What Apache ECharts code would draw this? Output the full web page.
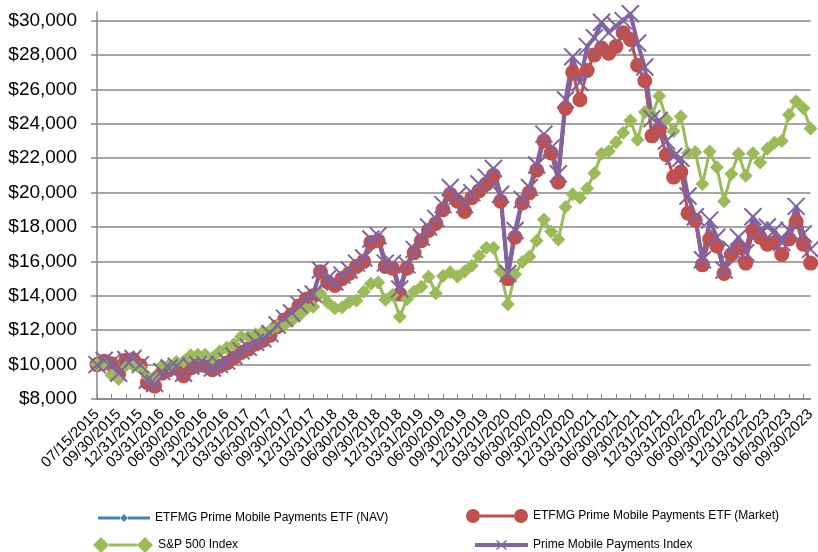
<!DOCTYPE html>
<html>
<head>
<meta charset="utf-8">
<script src="https://cdn.jsdelivr.net/npm/echarts@6/dist/echarts.min.js"></script>
<style>
  html, body { margin: 0; padding: 0; background: #fff; }
  #charts { width: 818px; height: 552px; }
</style>
</head>
<body>
<div id="charts"></div>
<script>
// growth of $10,000, monthly
var dates = ['07/15/2015', '07/31/2015', '08/31/2015', '09/30/2015', '10/31/2015', '11/30/2015', '12/31/2015',
    '01/31/2016', '02/29/2016', '03/31/2016', '04/30/2016', '05/31/2016', '06/30/2016', '07/31/2016', '08/31/2016', '09/30/2016', '10/31/2016', '11/30/2016', '12/31/2016',
    '01/31/2017', '02/28/2017', '03/31/2017', '04/30/2017', '05/31/2017', '06/30/2017', '07/31/2017', '08/31/2017', '09/30/2017', '10/31/2017', '11/30/2017', '12/31/2017',
    '01/31/2018', '02/28/2018', '03/31/2018', '04/30/2018', '05/31/2018', '06/30/2018', '07/31/2018', '08/31/2018', '09/30/2018', '10/31/2018', '11/30/2018', '12/31/2018',
    '01/31/2019', '02/28/2019', '03/31/2019', '04/30/2019', '05/31/2019', '06/30/2019', '07/31/2019', '08/31/2019', '09/30/2019', '10/31/2019', '11/30/2019', '12/31/2019',
    '01/31/2020', '02/29/2020', '03/31/2020', '04/30/2020', '05/31/2020', '06/30/2020', '07/31/2020', '08/31/2020', '09/30/2020', '10/31/2020', '11/30/2020', '12/31/2020',
    '01/31/2021', '02/28/2021', '03/31/2021', '04/30/2021', '05/31/2021', '06/30/2021', '07/31/2021', '08/31/2021', '09/30/2021', '10/31/2021', '11/30/2021', '12/31/2021',
    '01/31/2022', '02/28/2022', '03/31/2022', '04/30/2022', '05/31/2022', '06/30/2022', '07/31/2022', '08/31/2022', '09/30/2022', '10/31/2022', '11/30/2022', '12/31/2022',
    '01/31/2023', '02/28/2023', '03/31/2023', '04/30/2023', '05/31/2023', '06/30/2023', '07/31/2023', '08/31/2023', '09/30/2023'];

var navValues = [10000, 10200, 10050, 9450, 10250, 10300, 9950, 8950, 8750, 9500, 9700, 9800, 9350, 9800, 9950, 9950, 9700, 9900, 10100,
    10400, 10700, 10900, 11200, 11400, 11700, 12200, 12600, 12900, 13400, 13800, 14000,
    15400, 14800, 14600, 15000, 15300, 15700, 16000, 17100, 17200, 15700, 15600, 14100,
    15600, 16500, 17200, 17800, 18200, 19000, 19900, 19500, 18900, 19700, 20100, 20500,
    21000, 19500, 15000, 17400, 19400, 20000, 21300, 23000, 22300, 20600, 24900, 27000,
    25400, 27100, 28000, 28400, 28100, 28500, 29300, 28900, 27400, 26500, 23300, 23600,
    22200, 20900, 21200, 18800, 18400, 15800, 17300, 16900, 15300, 16400, 16800, 15900,
    17800, 17400, 17000, 17100, 16400, 17300, 18300, 17000, 15900];

var marketValues = [10000, 10200, 10050, 9450, 10250, 10300, 9950, 8950, 8750, 9500, 9700, 9800, 9350, 9800, 9950, 9950, 9700, 9900, 10100,
    10400, 10700, 10900, 11200, 11400, 11700, 12200, 12600, 12900, 13400, 13800, 14000,
    15400, 14800, 14600, 15000, 15300, 15700, 16000, 17100, 17200, 15700, 15600, 14100,
    15600, 16500, 17200, 17800, 18200, 19000, 19900, 19500, 18900, 19700, 20100, 20500,
    21000, 19500, 15000, 17400, 19400, 20000, 21300, 23000, 22300, 20600, 24900, 27000,
    25400, 27100, 28000, 28400, 28100, 28500, 29300, 28900, 27400, 26500, 23300, 23600,
    22200, 20900, 21200, 18800, 18400, 15800, 17300, 16900, 15300, 16400, 16800, 15900,
    17800, 17400, 17000, 17100, 16400, 17300, 18300, 17000, 15900];

var spValues = [10000, 9990, 9390, 9160, 9930, 9960, 9800, 9320, 9300, 9930, 9970, 10150, 10180, 10550, 10570, 10570, 10380, 10760, 10980,
    11190, 11630, 11640, 11760, 11930, 12000, 12250, 12290, 12540, 12830, 13220, 13370,
    14140, 13620, 13270, 13320, 13640, 13720, 14230, 14700, 14780, 13770, 14050, 12780,
    13800, 14250, 14520, 15110, 14150, 15150, 15370, 15120, 15410, 15740, 16310, 16800,
    16790, 15410, 13510, 15240, 15970, 16290, 17200, 18440, 17740, 17270, 19160, 19900,
    19700, 20240, 21130, 22260, 22410, 22930, 23480, 24190, 23070, 24680, 24510, 25610,
    24280, 23560, 24430, 22300, 22340, 20500, 22390, 21470, 19500, 21080, 22260, 20980,
    22290, 21750, 22550, 22900, 23000, 24520, 25310, 24910, 23720];

var indexValues = [10000, 10250, 10100, 9500, 10300, 10350, 10000, 9100, 8900, 9600, 9800, 9900, 9500, 9900, 10000, 10000, 9800, 10000, 10200,
    10500, 10800, 11000, 11300, 11500, 11800, 12300, 12700, 13000, 13500, 13900, 14100,
    15500, 15000, 14800, 15200, 15500, 15900, 16200, 17300, 17500, 15900, 15900, 14400,
    15800, 16700, 17400, 18000, 18500, 19300, 20300, 19800, 19300, 20000, 20500, 20900,
    21400, 19900, 15300, 17800, 19600, 20300, 21600, 23400, 22600, 21100, 25400, 27900,
    26400, 28500, 29000, 29900, 29300, 29700, 30000, 30400, 28700, 27300, 24300, 24200,
    23000, 22100, 22000, 19800, 18600, 16100, 18400, 17400, 15500, 16700, 17400, 16500,
    18600, 17800, 18000, 17800, 17100, 17800, 19200, 17600, 16700];

var yTicks = [8000, 10000, 12000, 14000, 16000, 18000, 20000, 22000, 24000, 26000, 28000, 30000];

var names = ['ETFMG Prime Mobile Payments ETF (NAV)', 'ETFMG Prime Mobile Payments ETF (Market)', 'S&P 500 Index', 'Prime Mobile Payments Index'];
var colors = ['#4A7EBB', '#C0504D', '#9BBB59', '#8064A2'];
var font = 'Liberation Sans';

function legendBox(name, icon, left, top, w, h) {
    return {
        data: [{ name: name, icon: icon }],
        left: left, top: top, padding: 0,
        itemWidth: w, itemHeight: h,
        selectedMode: false,
        itemStyle: { borderWidth: 0 },
        textStyle: { fontFamily: font, fontSize: 12, color: '#000' }
    };
}

var myChart = echarts.init(document.getElementById('charts'));
var option = {
    animation: false,
    grid: { left: 97, right: 7, top: 12, bottom: 153 },
    legend: [
        legendBox(names[0], 'path://M0,2.5h22v3h-22z M22,4L26,0L30,4L26,8z M30,2.5h22v3h-22z', 98, 512, 52, 8),
        legendBox(names[1], 'path://M0,7a7,7 0 1,0 14,0a7,7 0 1,0 -14,0z M14,5.5h34v3h-34z M48,7a7,7 0 1,0 14,0a7,7 0 1,0 -14,0z', 466, 509, 62, 14),
        legendBox(names[2], 'path://M0,8L8,0L16,8L8,16z M16,6.5h28v3h-28z M44,8L52,0L60,8L52,16z', 93, 537, 60, 16),
        legendBox(names[3], 'path://M0,3h53v4h-53z M21,1L22,0L32,9L31,10z M31,0L32,1L22,10L21,9z', 475, 539, 53, 10)
    ],
    xAxis: {
        type: 'category',
        data: dates,
        boundaryGap: false,
        axisLine: { lineStyle: { color: '#868686', width: 1.5 } },
        axisTick: { show: true, inside: true, length: 5, interval: 1, lineStyle: { color: '#868686' } },
        axisLabel: { interval: 2, rotate: 45, fontFamily: font, fontSize: 15, color: '#000', margin: 13 },
        splitLine: { show: false }
    },
    yAxis: {
        type: 'value',
        min: 8000,
        max: 30500,
        interval: 2000,
        axisLine: { show: true, lineStyle: { color: '#868686', width: 1.5 } },
        axisTick: { show: true, length: 6, customValues: yTicks, lineStyle: { color: '#868686', width: 1.5 } },
        axisLabel: {
            customValues: yTicks,
            fontFamily: font, fontSize: 19, color: '#000', margin: 20,
            formatter: function (v) { return '$' + v.toLocaleString('en-US'); }
        },
        splitLine: { show: true, lineStyle: { color: '#868686', width: 1.5 } }
    },
    series: [
        {
            name: names[0], type: 'line', data: navValues,
            symbol: 'diamond', symbolSize: 8, showAllSymbol: true, clip: false,
            itemStyle: { color: colors[0] },
            lineStyle: { color: colors[0], width: 2.5 }
        },
        {
            name: names[1], type: 'line', data: marketValues,
            symbol: 'circle', symbolSize: 15, showAllSymbol: true, clip: false,
            itemStyle: { color: colors[1] },
            lineStyle: { color: colors[1], width: 3 }
        },
        {
            name: names[2], type: 'line', data: spValues,
            symbol: 'diamond', symbolSize: 14, showAllSymbol: true, clip: false,
            itemStyle: { color: colors[2] },
            lineStyle: { color: colors[2], width: 3 }
        },
        {
            name: names[3], type: 'line', data: indexValues,
            symbol: 'path://M0,0L10,10M10,0L0,10', symbolSize: 17, showAllSymbol: true, clip: false,
            itemStyle: { color: colors[3], borderColor: colors[3], borderWidth: 2 },
            lineStyle: { color: colors[3], width: 4 }
        }
    ]
};
myChart.setOption(option);
</script>
</body>
</html>
